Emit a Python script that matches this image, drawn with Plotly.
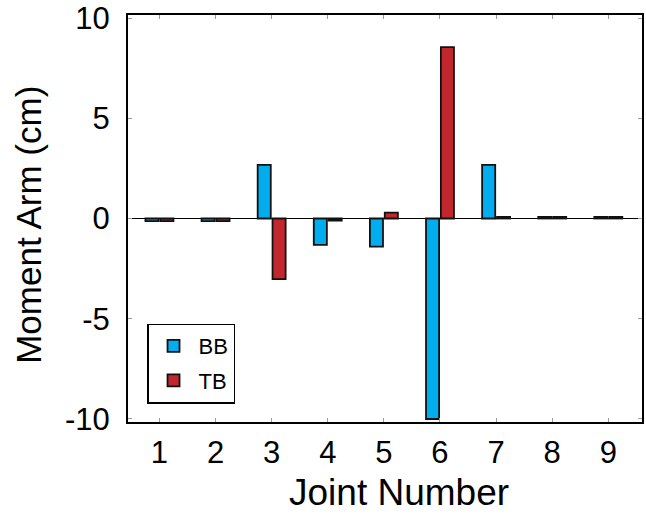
import plotly.graph_objects as go

joints = [1, 2, 3, 4, 5, 6, 7, 8, 9]
bb_values = [-0.13, -0.13, 2.67, -1.32, -1.4, -10.0, 2.67, 0.08, 0.08]
tb_values = [-0.13, -0.13, -3.02, -0.1, 0.29, 8.55, 0.08, 0.08, 0.08]
y_tick_vals = [-10, -5, 0, 5, 10]
y_tick_text = ["-10", "-5", "0", "5", "10"]
x_tick_text = [str(j) for j in joints]
x_title = "Joint Number"
y_title = "Moment Arm (cm)"

FONT = "Liberation Sans, Arial, Helvetica, sans-serif"

fig = go.Figure()
fig.add_trace(go.Bar(x=joints, y=bb_values, name="BB", legendgroup="a",
                     marker=dict(color="#00AEEF", line=dict(color="#111111", width=1.8))))
fig.add_trace(go.Bar(x=joints, y=tb_values, name="TB", legendgroup="b",
                     marker=dict(color="#C1272D", line=dict(color="#111111", width=1.8))))

axis_common = dict(
    showline=True, linecolor="black", linewidth=2, mirror="ticks",
    ticks="inside", ticklen=4, tickcolor="#9a9a9a", tickwidth=1,
    showgrid=False, automargin=False, ticklabeloverflow="allow",
    tickfont=dict(family=FONT, size=31, color="black"),
)

fig.update_layout(
    width=646, height=514,
    margin=dict(l=128, r=4, t=15, b=92),
    paper_bgcolor="white", plot_bgcolor="white",
    barmode="group", bargap=0.47, bargroupgap=0.12,
    showlegend=True,
    legend=dict(
        x=0.037, y=0.242, xanchor="left", yanchor="top",
        bgcolor="white", bordercolor="black", borderwidth=1.5,
        font=dict(family=FONT, size=22, color="black"),
        itemwidth=40, tracegroupgap=3, entrywidth=60,
    ),
    xaxis=dict(
        **axis_common,
        range=[0.44, 9.6],
        tickvals=joints, ticktext=x_tick_text,
        ticklabelstandoff=2,
        zeroline=False,
    ),
    yaxis=dict(
        **axis_common,
        range=[-10.15, 10.15],
        tickvals=y_tick_vals, ticktext=y_tick_text,
        ticklabelstandoff=10,
        zeroline=True, zerolinecolor="black", zerolinewidth=1.2,
    ),
    annotations=[
        dict(text=x_title, xref="paper", yref="paper", x=0.527, y=-0.172,
             xanchor="center", yanchor="middle", showarrow=False,
             font=dict(family=FONT, size=37, color="black")),
        dict(text=y_title, xref="paper", yref="paper", x=-0.195, y=0.484,
             xanchor="center", yanchor="middle", showarrow=False, textangle=-90,
             font=dict(family=FONT, size=35, color="black")),
    ],
)

fig.write_html("out.html", config={"displayModeBar": False},
               post_script="document.body.style.margin='0px';")
